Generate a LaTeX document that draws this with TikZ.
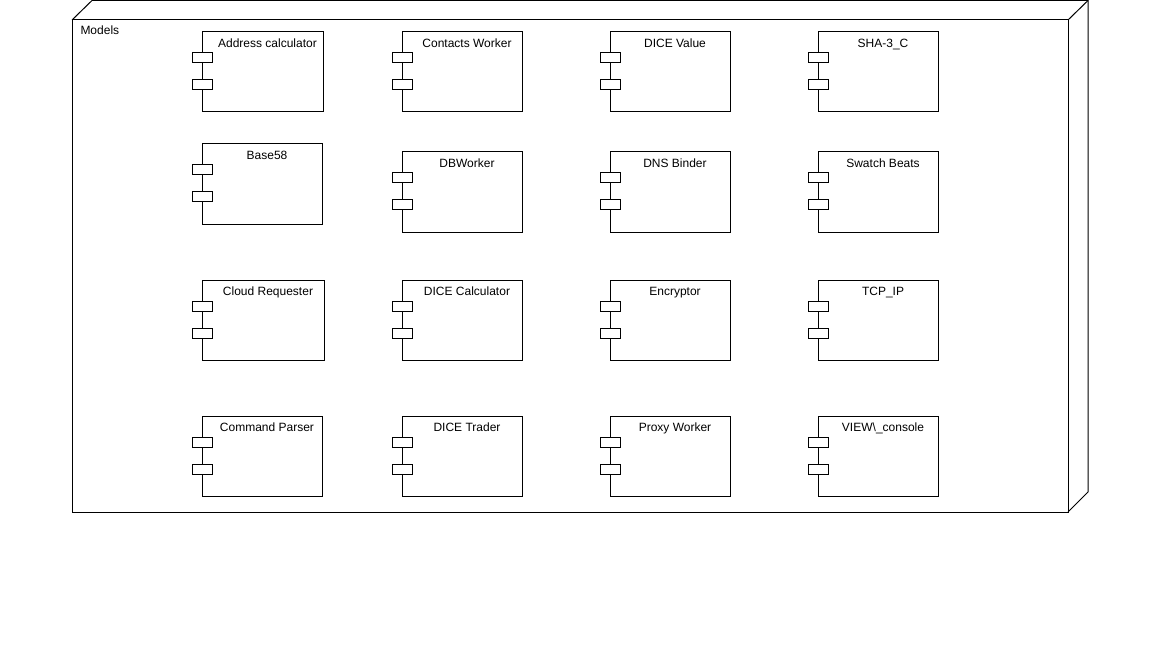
\documentclass[tikz,border=0pt]{standalone}
\usepackage{fontspec}
\setmainfont{Liberation Sans}
\newcommand\mkcomp[5]{% name, x, y, w, text
  \node[compbox, minimum width={#4*0.75pt}] (#1) at (#2,#3) {};
  \node[port] (#1-p1) at ({#2-10},{#3+21}) {};
  \node[port] (#1-p2) at ({#2-10},{#3+48}) {};
  \node[lbl] (#1-t) at ({#2+#4/2+5},{#3+15.5}) {#5};
}
\begin{document}
\begin{tikzpicture}[x=0.75pt,y=-0.75pt, line width=0.75pt,
  compbox/.style={draw, fill=white, inner sep=0, outer sep=0, minimum height=60pt, anchor=north west},
  port/.style={draw, fill=white, inner sep=0, outer sep=0, minimum width=15pt, minimum height=7.5pt, anchor=north west},
  lbl/.style={font=\fontsize{9pt}{10pt}\selectfont, inner sep=0, anchor=base}]
\useasboundingbox[fill=white] (0,0) rectangle (1160,656);
% 3D node
\draw (72,20) -- (92,0.5) -- (1088,0.5) -- (1088,492) -- (1068,512);
\draw (1068,20) -- (1088,0.5);
\node[draw, inner sep=0, outer sep=0, minimum width={996*0.75pt}, minimum height={492*0.75pt}, anchor=north west] (models) at (72,20) {};
\node[lbl, anchor=base west] (models-t) at (80,35) {Models};
% row 1
\mkcomp{addr}{202}{32}{121}{Address calculator}
\mkcomp{contacts}{402}{32}{120}{Contacts Worker}
\mkcomp{dicevalue}{610}{32}{120}{DICE Value}
\mkcomp{sha}{818}{32}{120}{SHA-3\_C}
% row 2
\mkcomp{base}{202}{144}{120}{Base58}
\mkcomp{db}{402}{152}{120}{DBWorker}
\mkcomp{dns}{610}{152}{120}{DNS Binder}
\mkcomp{swatch}{818}{152}{120}{Swatch Beats}
% row 3
\mkcomp{cloud}{202}{280}{122}{Cloud Requester}
\mkcomp{dicecalc}{402}{280}{120}{DICE Calculator}
\mkcomp{enc}{610}{280}{120}{Encryptor}
\mkcomp{tcp}{818}{280}{120}{TCP\_IP}
% row 4
\mkcomp{cmd}{202}{416}{120}{Command Parser}
\mkcomp{trader}{402}{416}{120}{DICE Trader}
\mkcomp{proxy}{610}{416}{120}{Proxy Worker}
\mkcomp{view}{818}{416}{120}{VIEW\textbackslash\_console}
\end{tikzpicture}
\end{document}
